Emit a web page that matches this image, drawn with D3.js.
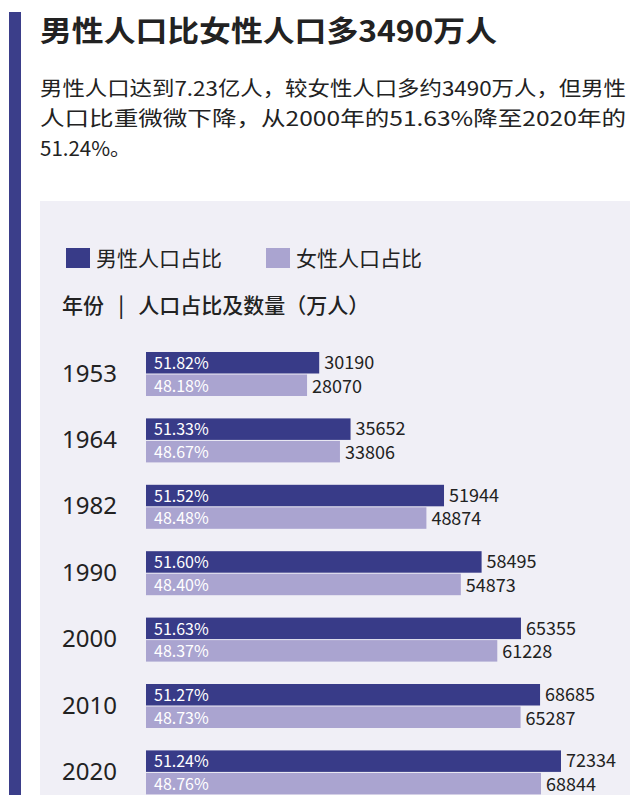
<!DOCTYPE html>
<html><head><meta charset="utf-8">
<script src="https://cdn.jsdelivr.net/npm/d3@7"></script>
<style>body{margin:0;background:#fff}svg{display:block}</style>
</head><body>
<script>
const years = ["1953","1964","1982","1990","2000","2010","2020"];
const maleCount = [30190,35652,51944,58495,65355,68685,72334];
const femaleCount = [28070,33806,48874,54873,61228,65287,68844];
const malePct = ["51.82%","51.33%","51.52%","51.60%","51.63%","51.27%","51.24%"];
const femalePct = ["48.18%","48.67%","48.48%","48.40%","48.37%","48.73%","48.76%"];

const W = 638, H = 795;
const font = "'Noto Sans CJK SC', 'Noto Sans', sans-serif";
const male = "#383b88", female = "#aaa4d0";
const svg = d3.select("body").append("svg").attr("width", W).attr("height", H);

svg.append("rect").attr("width", W).attr("height", H).attr("fill", "#fff");
svg.append("rect").attr("x", 9).attr("y", 12).attr("width", 12).attr("height", H).attr("fill", "#3b3e8a");
svg.append("rect").attr("x", 40).attr("y", 201).attr("width", 590).attr("height", H).attr("fill", "#f0eff6");

svg.append("text").attr("x", 40).attr("y", 42).attr("font-family", font).attr("font-weight", 700)
  .attr("font-size", 29).attr("fill", "#222").attr("textLength", 457).attr("lengthAdjust", "spacingAndGlyphs")
  .text("男性人口比女性人口多3490万人");

const para = ["男性人口达到7.23亿人，较女性人口多约3490万人，但男性",
  "人口比重微微下降，从2000年的51.63%降至2020年的", "51.24%。"];
svg.selectAll(".para").data(para).join("text").attr("x", 40).attr("y", (d, i) => 96 + i * 30)
  .attr("font-family", font).attr("font-size", 20.5).attr("fill", "#222")
  .attr("textLength", (d, i) => i < 2 ? 586 : null).attr("lengthAdjust", "spacingAndGlyphs").text(d => d);

// legend
[[male, "男性人口占比", 66], [female, "女性人口占比", 266]].forEach(([c, t, x]) => {
  svg.append("rect").attr("x", x).attr("y", 248).attr("width", 24).attr("height", 20).attr("fill", c);
  svg.append("text").attr("x", x + 30).attr("y", 266).attr("font-family", font).attr("font-size", 21)
    .attr("fill", "#222").text(t);
});
svg.append("text").attr("x", 62).attr("y", 313).attr("font-family", font).attr("font-size", 21)
  .attr("font-weight", 500).attr("fill", "#222").attr("xml:space", "preserve").text("年份   |   人口占比及数量（万人）");

const x = d3.scaleLinear().domain([0, 72334]).range([146, 561]);
const y = d3.scaleBand().domain(years).range([352, 352 + 66.4 * 7]).paddingInner(0).paddingOuter(0);
const bh = 21.5;

const g = svg.selectAll(".row").data(years).join("g").attr("transform", d => `translate(0,${y(d)})`);
g.append("text").attr("x", 62).attr("y", bh + 8).attr("font-family", "'Liberation Sans Narrow', 'Noto Sans', sans-serif")
  .attr("font-size", 24).attr("fill", "#222").text(d => d);
g.append("rect").attr("x", x(0)).attr("y", 0).attr("height", bh).attr("width", (d, i) => x(maleCount[i]) - x(0)).attr("fill", male);
g.append("rect").attr("x", x(0)).attr("y", bh + 1).attr("height", bh).attr("width", (d, i) => x(femaleCount[i]) - x(0)).attr("fill", female);
g.append("text").attr("x", x(0) + 8).attr("y", 17).attr("font-family", font).attr("font-size", 16).attr("fill", "#fff").text((d, i) => malePct[i]);
g.append("text").attr("x", x(0) + 8).attr("y", bh + 18).attr("font-family", font).attr("font-size", 16).attr("fill", "#fff").text((d, i) => femalePct[i]);
g.append("text").attr("x", (d, i) => x(maleCount[i]) + 5).attr("y", 17).attr("font-family", font).attr("font-size", 18).attr("fill", "#222").text((d, i) => maleCount[i]);
g.append("text").attr("x", (d, i) => x(femaleCount[i]) + 5).attr("y", bh + 19).attr("font-family", font).attr("font-size", 18).attr("fill", "#222").text((d, i) => femaleCount[i]);
</script>
</body></html>
